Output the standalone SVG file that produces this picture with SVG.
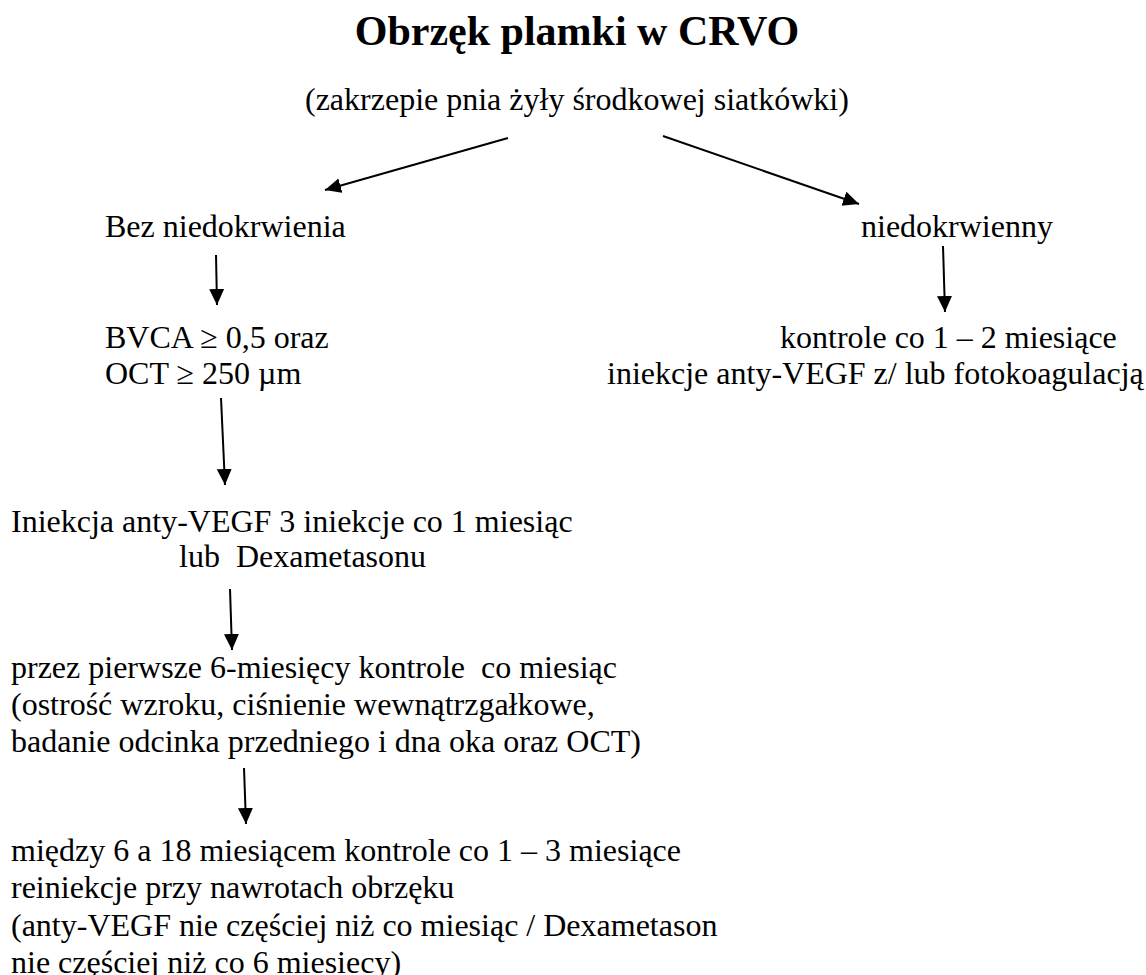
<svg xmlns="http://www.w3.org/2000/svg" width="1146" height="975" viewBox="0 0 1146 975">
  <style>
    text { font-family: "Liberation Serif", "Times New Roman", serif; font-size: 32px; fill: #000; }
    .title { font-size: 42px; font-weight: bold; }
    .conn line { stroke: #000; stroke-width: 2; fill: none; }
  </style>
  <defs>
    <marker id="arrow" markerUnits="userSpaceOnUse" markerWidth="17" markerHeight="16" refX="16" refY="7.5" orient="auto">
      <path d="M0,0 L16,7.5 L0,15 z" fill="#000"/>
    </marker>
  </defs>
  <rect width="1146" height="975" fill="#fff"/>

  <g id="title">
    <text class="title" x="577" y="45" text-anchor="middle">Obrzęk plamki w CRVO</text>
  </g>
  <g id="root">
    <text x="305" y="110">(zakrzepie pnia żyły środkowej siatkówki)</text>
  </g>
  <g id="bez">
    <text x="105" y="237">Bez niedokrwienia</text>
  </g>
  <g id="niedokrwienny">
    <text x="861" y="237">niedokrwienny</text>
  </g>
  <g id="bvca">
    <text x="105" y="348">BVCA ≥ 0,5 oraz</text>
    <text x="105" y="384">OCT ≥ 250 µm</text>
  </g>
  <g id="kontrole">
    <text x="780" y="348">kontrole co 1 – 2 miesiące</text>
    <text x="607" y="384">iniekcje anty-VEGF z/ lub fotokoagulacją</text>
  </g>
  <g id="iniekcja">
    <text x="11" y="532">Iniekcja anty-VEGF 3 iniekcje co 1 miesiąc</text>
    <text x="179" y="567" xml:space="preserve">lub  Dexametasonu</text>
  </g>
  <g id="przez">
    <text x="11" y="678" xml:space="preserve">przez pierwsze 6-miesięcy kontrole  co miesiąc</text>
    <text x="11" y="715">(ostrość wzroku, ciśnienie wewnątrzgałkowe,</text>
    <text x="11" y="752">badanie odcinka przedniego i dna oka oraz OCT)</text>
  </g>
  <g id="miedzy">
    <text x="11" y="861">między 6 a 18 miesiącem kontrole co 1 – 3 miesiące</text>
    <text x="11" y="898">reiniekcje przy nawrotach obrzęku</text>
    <text x="11" y="936">(anty-VEGF nie częściej niż co miesiąc / Dexametason</text>
    <text x="11" y="973">nie częściej niż co 6 miesiecy)</text>
  </g>

  <g id="connectors" class="conn">
    <line x1="508" y1="138" x2="325" y2="190" marker-end="url(#arrow)"/>
    <line x1="663" y1="136" x2="859" y2="204" marker-end="url(#arrow)"/>
    <line x1="216" y1="255" x2="217" y2="305" marker-end="url(#arrow)"/>
    <line x1="943" y1="246" x2="945" y2="312" marker-end="url(#arrow)"/>
    <line x1="221" y1="398" x2="225" y2="485" marker-end="url(#arrow)"/>
    <line x1="230" y1="589" x2="232" y2="650" marker-end="url(#arrow)"/>
    <line x1="244" y1="768" x2="246" y2="824" marker-end="url(#arrow)"/>
  </g>
</svg>
